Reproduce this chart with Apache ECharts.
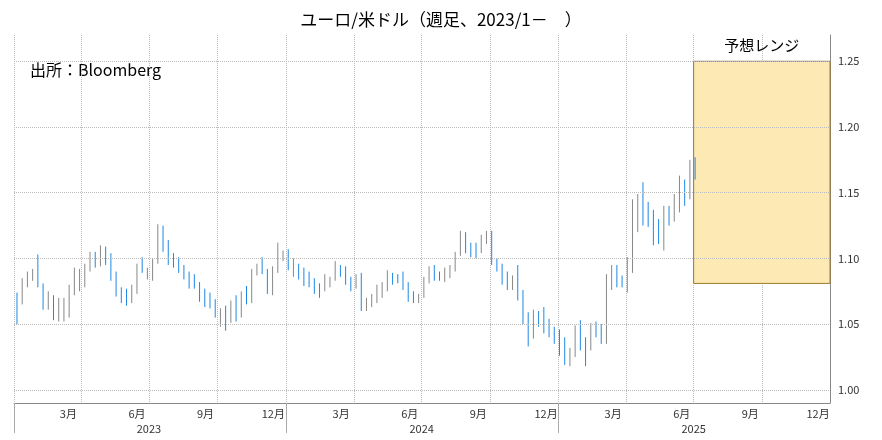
<!DOCTYPE html>
<html><head><meta charset="utf-8">
<script src="https://cdn.jsdelivr.net/npm/echarts@6/dist/echarts.min.js"></script>
<style>html,body{margin:0;padding:0;background:#fff}#c{width:882px;height:440px}</style>
</head><body><div id="c"></div>
<script>
const titleText = 'ユーロ/米ドル（週足、2023/1－　）';
const sourceText = '出所：Bloomberg';
const rangeLabel = '予想レンジ';
const firstOpen = 1.070;
const closes = [
1.065,1.083,1.085,1.087,1.080,1.068,1.069,1.055,1.063,1.064,1.067,1.076,1.084,1.090,1.099,1.099,1.102,1.102,1.085,1.075,1.072,1.069,1.075,1.094,1.090,1.091,1.097,1.123,1.112,1.102,1.100,1.095,1.087,1.080,1.078,1.070,1.066,1.065,1.057,1.059,1.052,1.059,1.056,1.073,1.068,1.091,1.094,1.088,1.076,1.092,1.101,1.104,
1.094,1.095,1.089,1.085,1.079,1.078,1.077,1.082,1.084,1.094,1.089,1.081,1.079,1.084,1.064,1.066,1.069,1.076,1.077,1.087,1.085,1.085,1.080,1.070,1.069,1.071,1.084,1.091,1.088,1.085,1.091,1.092,1.103,1.119,1.108,1.108,1.108,1.116,1.117,1.097,1.094,1.087,1.080,1.083,1.072,1.053,1.042,1.057,1.056,1.050,1.043,1.043,1.031,
1.024,1.027,1.041,1.036,1.033,1.049,1.046,1.038,1.083,1.088,1.082,1.082,1.095,1.136,1.139,1.137,1.130,1.125,1.116,1.136,1.135,1.140,1.155,1.150,1.172,1.172];
const highs = [
1.074,1.085,1.090,1.092,1.103,1.081,1.075,1.072,1.070,1.070,1.080,1.093,1.092,1.096,1.105,1.105,1.110,1.109,1.104,1.090,1.078,1.077,1.080,1.096,1.101,1.093,1.100,1.126,1.125,1.114,1.104,1.101,1.095,1.090,1.088,1.082,1.077,1.074,1.069,1.062,1.064,1.068,1.072,1.075,1.079,1.092,1.096,1.101,1.092,1.094,1.112,1.106,
1.107,1.100,1.096,1.093,1.090,1.085,1.081,1.088,1.086,1.098,1.095,1.094,1.086,1.088,1.089,1.070,1.073,1.080,1.082,1.091,1.089,1.088,1.090,1.082,1.075,1.073,1.086,1.094,1.095,1.090,1.093,1.095,1.105,1.121,1.120,1.112,1.112,1.118,1.121,1.121,1.100,1.096,1.090,1.087,1.095,1.076,1.059,1.061,1.060,1.063,1.054,1.048,1.046,
1.040,1.032,1.049,1.053,1.040,1.051,1.052,1.050,1.088,1.095,1.095,1.087,1.101,1.145,1.149,1.158,1.143,1.137,1.130,1.140,1.140,1.149,1.163,1.160,1.175,1.177];
const lows = [
1.050,1.065,1.078,1.083,1.078,1.061,1.061,1.053,1.052,1.052,1.055,1.072,1.075,1.078,1.090,1.093,1.094,1.095,1.083,1.071,1.066,1.064,1.066,1.073,1.089,1.084,1.083,1.096,1.105,1.095,1.093,1.089,1.084,1.077,1.077,1.067,1.063,1.062,1.055,1.048,1.045,1.051,1.052,1.055,1.065,1.066,1.087,1.088,1.073,1.072,1.089,1.098,
1.091,1.086,1.084,1.079,1.078,1.073,1.070,1.075,1.078,1.083,1.086,1.080,1.075,1.077,1.060,1.060,1.063,1.066,1.070,1.075,1.080,1.081,1.076,1.067,1.066,1.066,1.070,1.081,1.083,1.083,1.082,1.085,1.090,1.102,1.104,1.101,1.100,1.104,1.111,1.095,1.090,1.080,1.076,1.076,1.068,1.050,1.033,1.039,1.048,1.043,1.040,1.035,1.026,
1.019,1.018,1.025,1.030,1.018,1.030,1.040,1.035,1.035,1.076,1.078,1.078,1.074,1.089,1.120,1.125,1.124,1.110,1.111,1.106,1.125,1.128,1.135,1.140,1.145,1.160];
const yTicks = [1.00,1.05,1.10,1.15,1.20,1.25];
const lastPrice = 1.1715;
const rangeLow = 1.081, rangeHigh = 1.25;
const rangeStart = '2025-07-01', rangeEnd = '2025-12-31';
const startDate = '2023-01-02';

function fmt(d){return d.getUTCFullYear()+'-'+String(d.getUTCMonth()+1).padStart(2,'0')+'-'+String(d.getUTCDate()).padStart(2,'0');}
const days = [];
for(let t=Date.UTC(2023,0,1); t<=Date.UTC(2025,11,31); t+=86400000) days.push(fmt(new Date(t)));
const dayIndex = {}; days.forEach((d,i)=>dayIndex[d]=i);
const candle = days.map(()=>'-');
const s0 = Date.parse(startDate+'T00:00:00Z');
let prev = firstOpen;
closes.forEach((c,i)=>{
  const d = fmt(new Date(s0 + (7*i+3)*86400000));
  candle[dayIndex[d]] = [prev, c, lows[i], highs[i]];
  prev = c;
});
const F = '"Noto Sans CJK JP","Noto Sans",sans-serif';
const chart = echarts.init(document.getElementById('c'));
chart.setOption({
  animation:false,
  textStyle:{fontFamily:F},
  title:{text:titleText,left:'center',top:6,textStyle:{fontSize:17,fontWeight:'normal',color:'#000',fontFamily:F}},
  graphic:[{type:'text',left:30,top:62,style:{text:sourceText,fontSize:16,fill:'#000',fontFamily:F}}],
  grid:{left:14,right:52,top:35,bottom:37},
  xAxis:[{
    type:'category',data:days,boundaryGap:false,
    axisLine:{lineStyle:{color:'#888'}},
    axisTick:{show:true,interval:(i,v)=>v.slice(5)==='01-01',length:30,lineStyle:{color:'#aaa'}},
    axisLabel:{interval:(i,v)=>['03-15','06-15','09-15','12-15'].includes(v.slice(5)),formatter:v=>(+v.slice(5,7))+'月',fontSize:11,color:'#333',margin:5},
    splitLine:{show:true,interval:(i,v)=>['01-01','04-01','07-01','10-01'].includes(v.slice(5)),lineStyle:{type:'dotted',color:'#bbb'}}
  },{
    type:'category',data:days,boundaryGap:false,position:'bottom',offset:16,
    axisLine:{show:false},axisTick:{show:false},splitLine:{show:false},
    axisLabel:{interval:(i,v)=>v.slice(5)==='07-01',formatter:v=>v.slice(0,4),fontSize:11,color:'#333',margin:4}
  }],
  yAxis:{type:'value',position:'right',min:0.99,max:1.27,interval:0.01,scale:true,
    axisLine:{show:true,lineStyle:{color:'#888'}},
    axisTick:{show:false},splitLine:{show:false},
    axisLabel:{fontSize:11,color:'#333',margin:8,formatter:v=>{const k=v*20;return (v>0.999&&Math.abs(k-Math.round(k))<1e-6)?v.toFixed(2):'';}}},
  series:[{
    type:'candlestick',data:candle,barWidth:4,barMinWidth:4,barMaxWidth:5,
    itemStyle:{color:'#ffffff',borderColor:'#888',color0:'#1e88e5',borderColor0:'#1e88e5',borderWidth:1},
    markArea:{silent:true,itemStyle:{color:'#fde9b4',borderColor:'#9c7a2c',borderWidth:1},
      label:{show:true,position:'top',distance:8,fontSize:15,color:'#000',fontFamily:F},
      data:[[{name:rangeLabel,xAxis:rangeStart,yAxis:rangeHigh},{xAxis:rangeEnd,yAxis:rangeLow}]]},
    markLine:{silent:true,symbol:'none',animation:false,
      data:[...yTicks.map(v=>({yAxis:v,lineStyle:{type:'dotted',color:'#bbb',width:1},label:{show:false}})),
        {yAxis:lastPrice,lineStyle:{opacity:0},label:{show:true,position:'end',formatter:lastPrice.toFixed(2),color:'#fff',backgroundColor:'#111',padding:[2,3,1,4],fontSize:11,distance:2}}]}
  },{type:'line',xAxisIndex:1,data:[]}]
});
</script></body></html>
